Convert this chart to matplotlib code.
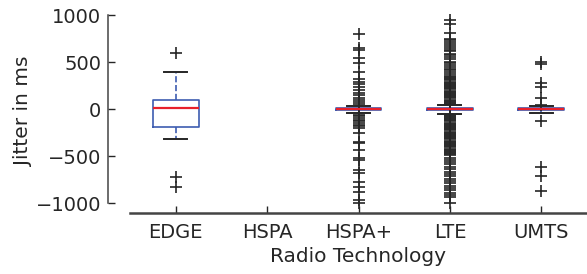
import matplotlib
matplotlib.use("Agg")
import matplotlib.pyplot as plt

categories = ["EDGE", "HSPA", "HSPA+", "LTE", "UMTS"]

# box statistics per technology (ms); HSPA has no samples
medians = [10, None, 0, 0, 0]
q1s = [-188, None, -12, -15, -10]
q3s = [96, None, 10, 15, 8]
whis_lo = [-319, None, -43, -53, -40]
whis_hi = [397, None, 32, 43, 30]

edge_fliers = [600, -720, -826]
hspa_plus_fliers = [798, 650, 630, 540, 490, 395, 320, 290, 262, 235, 205, 175, 150,
                    120, 95, 70, 50, -60, -78, -95, -112, -130, -148, -165, -182, -200,
                    -255, -350, -362, -436, -520, -543, -650, -680, -777, -830, -883,
                    -968, -1000]
lte_fliers = [947, 904, 808, 745, 730, 712, 690, 672, 650, 628, 612, 590, 570, 548,
              530, 505, 488, 470, 452, 430, 412, 392, 372, 355, 340, 328, 316, 304,
              292, 280, 268, 256, 244, 232, 220, 208, 196, 184, 172, 160, 148, 136,
              124, 112, 100, 88, 76, 64, 52, -60, -72, -84, -96, -108, -120, -132,
              -144, -156, -168, -180, -192, -204, -216, -228, -240, -252, -264, -276,
              -288, -300, -312, -324, -336, -348, -360, -372, -384, -396, -408, -420,
              -432, -444, -456, -468, -480, -492, -520, -545, -565, -590, -612, -640,
              -665, -690, -712, -740, -765, -790, -815, -840, -862, -890, -915, -936,
              -1000]
umts_fliers = [495, 480, 280, 230, 120, 45, -125, -615, -710, -870]
fliers = [edge_fliers, [], hspa_plus_fliers, lte_fliers, umts_fliers]

blue = "#3d5cb0"
red = "#e8202a"
dark = "#262626"

stats = []
positions = []
for i, name in enumerate(categories):
    if medians[i] is None:
        continue
    stats.append({
        "label": name,
        "med": medians[i],
        "q1": q1s[i],
        "q3": q3s[i],
        "whislo": whis_lo[i],
        "whishi": whis_hi[i],
        "fliers": fliers[i],
    })
    positions.append(i + 1)

fig = plt.figure(figsize=(5.87, 2.74), dpi=100)
ax = fig.add_axes([130 / 587, 61 / 274, 457 / 587, 202.7 / 274])

ax.bxp(stats, positions=positions, widths=0.5, showfliers=True,
       boxprops=dict(color=blue, linewidth=1.2),
       whiskerprops=dict(color=blue, linewidth=1.2, linestyle="--"),
       capprops=dict(color=dark, linewidth=1.4),
       medianprops=dict(color=red, linewidth=1.6),
       flierprops=dict(marker="+", markeredgecolor=dark, markersize=9,
                       markeredgewidth=1.2, linestyle="none"))

ax.set_xlim(0.5, 5.5)
ax.set_ylim(-1106, 1050)
ax.set_xticks(range(1, len(categories) + 1))
ax.set_xticklabels(categories)
ax.set_yticks([-1000, -500, 0, 500, 1000])

for side in ["top", "right"]:
    ax.spines[side].set_visible(False)
ax.spines["left"].set_position(("outward", 15.8))
ax.spines["left"].set_bounds(-1000, 1000)
ax.spines["left"].set_color("#444444")
ax.spines["left"].set_linewidth(1.1)
ax.spines["bottom"].set_color("#444444")
ax.spines["bottom"].set_linewidth(1.8)

ax.tick_params(axis="x", direction="in", length=5, width=1.0, pad=7,
               labelsize=14, colors=dark, top=False)
ax.tick_params(axis="y", direction="in", length=5, width=1.0, pad=5,
               labelsize=14, colors=dark, right=False)

ax.set_xlabel("Radio Technology", fontsize=14.5, color=dark, labelpad=4)
ax.set_ylabel("Jitter in ms", fontsize=14.5, color=dark, labelpad=2)

fig.savefig("out.png", dpi=100)
